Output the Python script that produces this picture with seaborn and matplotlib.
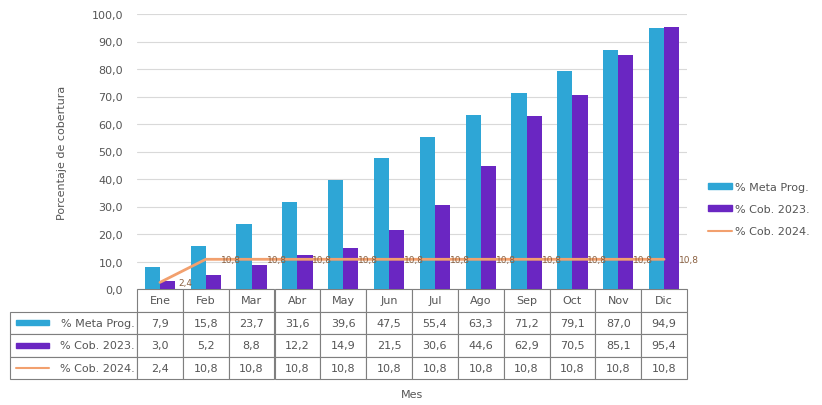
import matplotlib
matplotlib.use("Agg")
import matplotlib.pyplot as plt
from matplotlib.patches import Patch, Rectangle
from matplotlib.lines import Line2D
import numpy as np
import pandas as pd
import seaborn as sns

months = ["Ene", "Feb", "Mar", "Abr", "May", "Jun", "Jul", "Ago", "Sep", "Oct", "Nov", "Dic"]
meta_prog = [7.9, 15.8, 23.7, 31.6, 39.6, 47.5, 55.4, 63.3, 71.2, 79.1, 87.0, 94.9]
cob_2023 = [3.0, 5.2, 8.8, 12.2, 14.9, 21.5, 30.6, 44.6, 62.9, 70.5, 85.1, 95.4]
cob_2024 = [2.4, 10.8, 10.8, 10.8, 10.8, 10.8, 10.8, 10.8, 10.8, 10.8, 10.8, 10.8]
series_names = ["% Meta Prog.", "% Cob. 2023.", "% Cob. 2024."]

c_meta = "#2ea6d6"
c_2023 = "#6a26c2"
c_2024 = "#f2a06e"
txt = "#555555"
grid_c = "#d9d9d9"


def fmt(v):
    return f"{v:.1f}".replace(".", ",")


sns.set_style("white")
plt.rcParams["font.family"] = ["DejaVu Sans"]

bars = pd.DataFrame({
    "Mes": months * 2,
    "valor": meta_prog + cob_2023,
    "serie": [series_names[0]] * 12 + [series_names[1]] * 12,
})

fig = plt.figure(figsize=(8.22, 4.06), dpi=100)
ax = fig.add_axes([137 / 822, 1 - 290 / 406, 550 / 822, 275 / 406])

sns.barplot(data=bars, x="Mes", y="valor", hue="serie", order=months,
            palette=[c_meta, c_2023], width=0.66, saturation=1,
            edgecolor="none", legend=False, ax=ax)

pos = np.arange(len(months))
sns.lineplot(x=pos, y=cob_2024, color=c_2024, linewidth=2, ax=ax, legend=False)
for i, v in enumerate(cob_2024):
    ax.annotate(fmt(v), (pos[i], v), xytext=(18, 0), textcoords="offset points",
                ha="center", va="center", fontsize=6.5, color="#8a6040",
                annotation_clip=False)

ax.set_xlim(-0.5, len(months) - 0.5)
ax.set_ylim(0, 100)
ax.set_yticks(np.arange(0, 101, 10))
ax.set_yticklabels([fmt(t) for t in np.arange(0, 101, 10)], fontsize=8, color=txt)
ax.set_xticks([])
ax.set_xlabel("")
ax.set_ylabel("Porcentaje de cobertura", fontsize=8, color=txt, labelpad=18)
ax.yaxis.grid(True, color=grid_c, linewidth=0.8)
ax.set_axisbelow(True)
ax.tick_params(axis="y", length=0, pad=10)
for s in ax.spines.values():
    s.set_visible(False)

# data table under the plot
rows = [meta_prog, cob_2023, cob_2024]
cell_text = [[name] + [fmt(v) for v in vals] for name, vals in zip(series_names, rows)]
label_w = 127 / 550
tab_h = 90 / 275
tbl = ax.table(cellText=cell_text, colLabels=[""] + months,
               colWidths=[label_w] + [1 / 12] * 12,
               cellLoc="center",
               bbox=[-label_w, -tab_h, 1 + label_w, tab_h])
tbl.auto_set_font_size(False)
tbl.set_fontsize(8)
for (r, c), cell in tbl.get_celld().items():
    cell.set_edgecolor("#7f7f7f")
    cell.set_linewidth(0.8)
    cell.get_text().set_color(txt)
    if r == 0 and c == 0:
        cell.visible_edges = "open"
    if c == 0 and r > 0:
        cell.get_text().set_ha("right")
        cell._loc = "right"
        cell.PAD = 0.02

# legend keys inside the table label column
row_h = tab_h / 4
key_x = -label_w + 0.01
for k, col in enumerate([c_meta, c_2023]):
    yc = -(k + 1.5) * row_h
    ax.add_patch(Rectangle((key_x, yc - 0.009), 0.06, 0.018, transform=ax.transAxes,
                           color=col, clip_on=False))
yc = -3.5 * row_h
ax.add_line(Line2D([key_x, key_x + 0.06], [yc, yc], transform=ax.transAxes,
                   color=c_2024, linewidth=1.5, clip_on=False))

fig.text((137 + 687) / 2 / 822, 1 - 395 / 406, "Mes", ha="center", va="center",
         fontsize=8, color=txt)

handles = [Patch(color=c_meta), Patch(color=c_2023), Line2D([], [], color=c_2024, linewidth=1.5)]
ax.legend(handles, series_names, loc="center left", bbox_to_anchor=(1.02, 0.29),
          frameon=False, fontsize=8, labelcolor=txt, handlelength=2.2, handleheight=0.5,
          handletextpad=0.2, labelspacing=1.1)

fig.savefig("out.png", dpi=100)
